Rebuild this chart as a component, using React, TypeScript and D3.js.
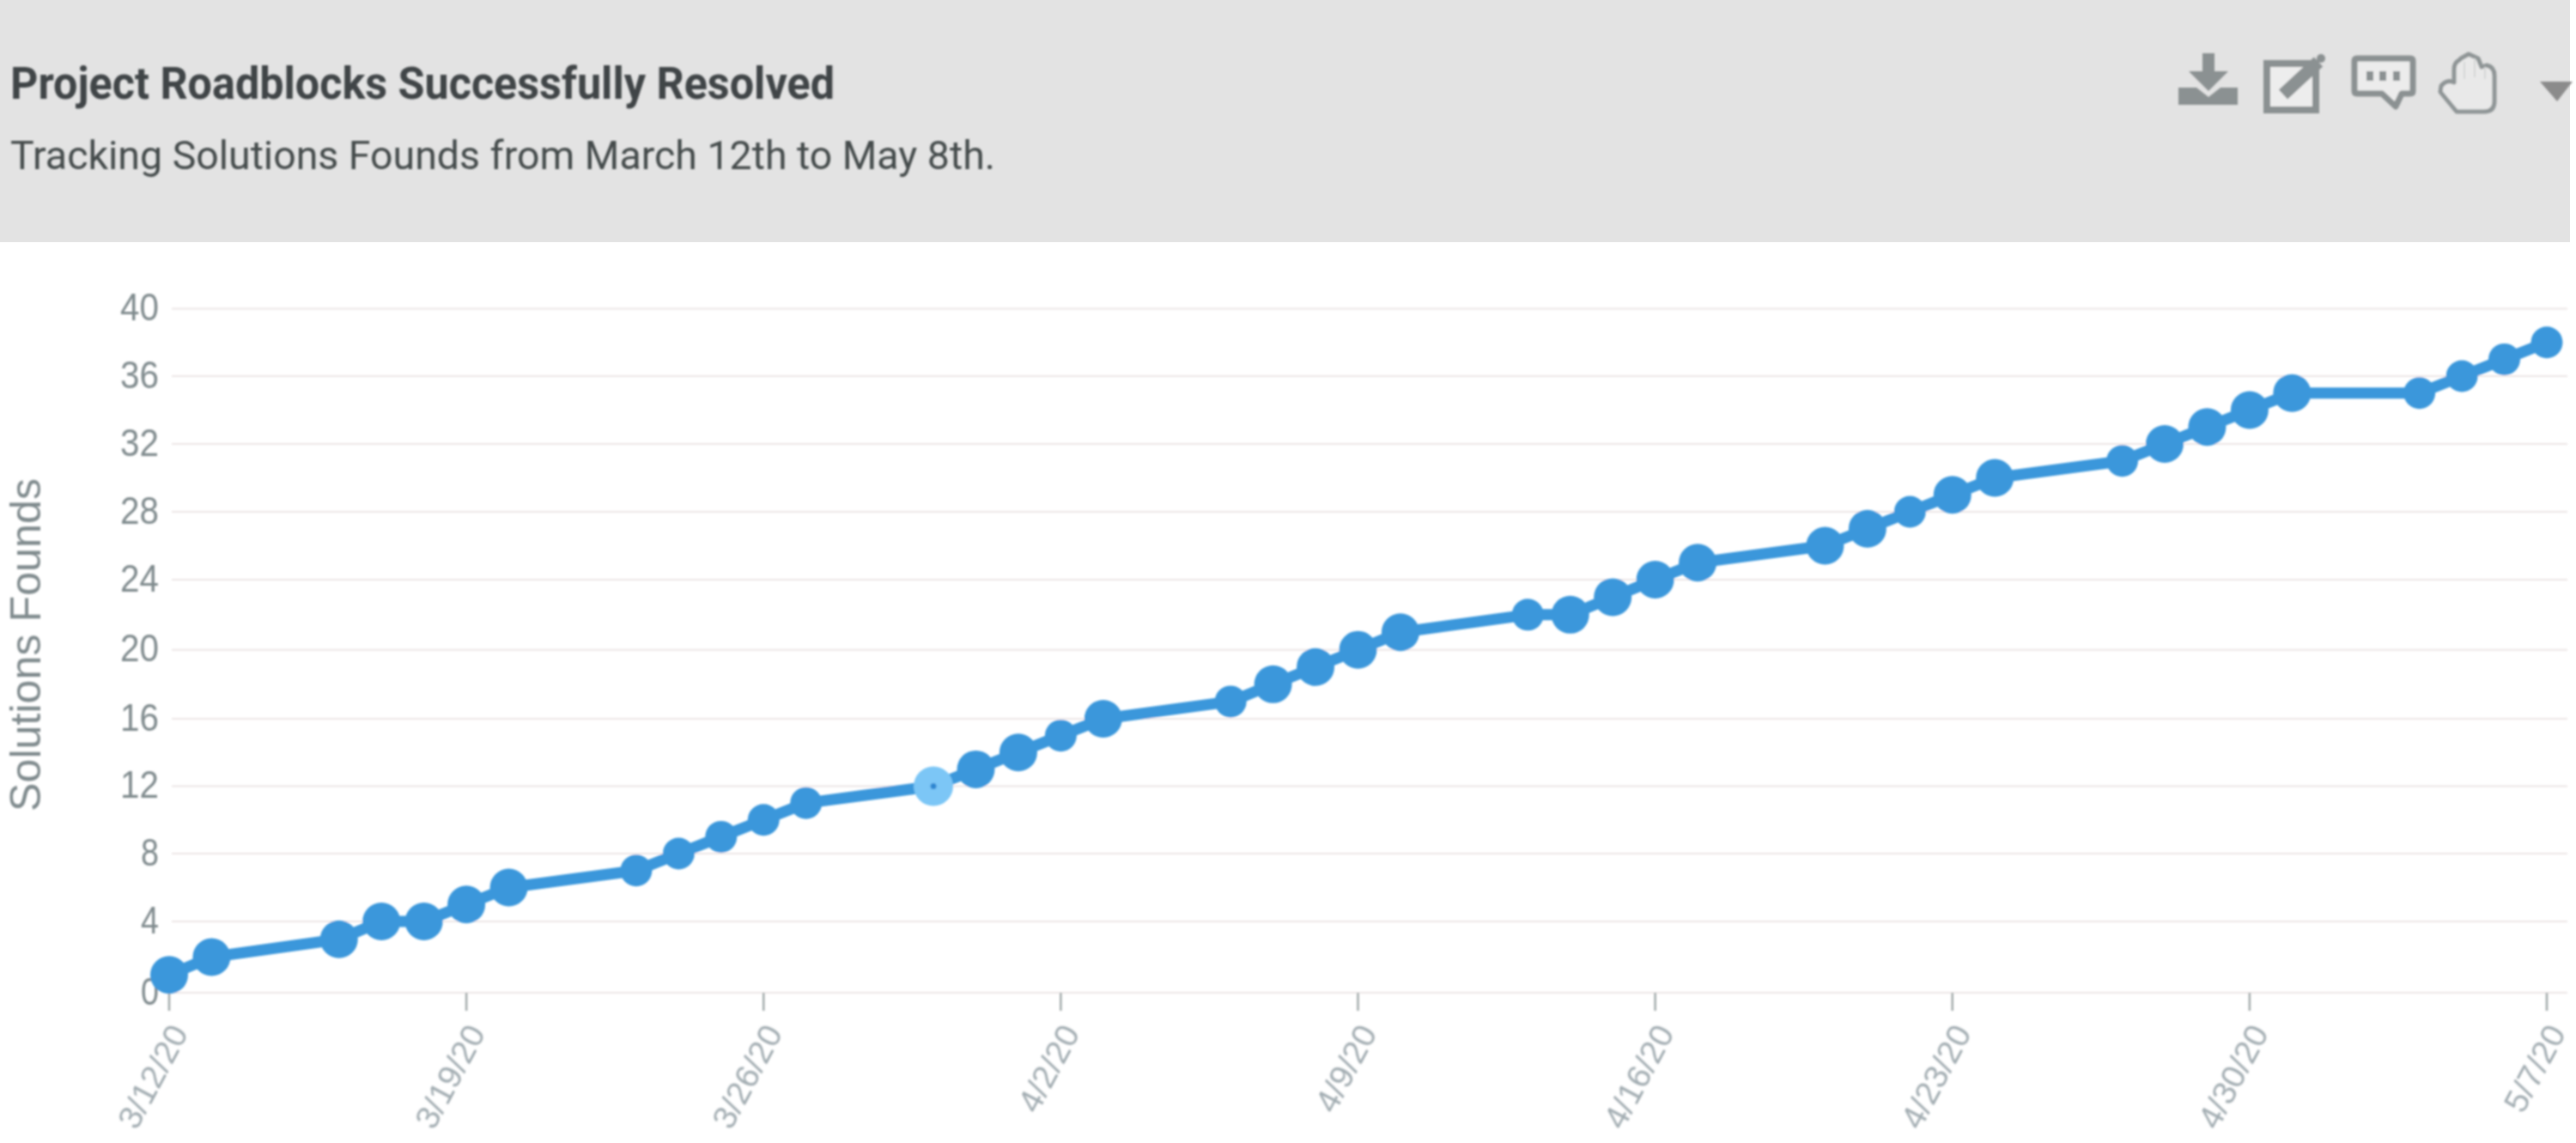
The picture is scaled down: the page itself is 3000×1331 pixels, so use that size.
import React from "react";
import * as d3 from "d3";

const dates = [
  "2020-03-12","2020-03-13","2020-03-16","2020-03-17","2020-03-18","2020-03-19","2020-03-20",
  "2020-03-23","2020-03-24","2020-03-25","2020-03-26","2020-03-27",
  "2020-03-30","2020-03-31","2020-04-01","2020-04-02","2020-04-03",
  "2020-04-06","2020-04-07","2020-04-08","2020-04-09","2020-04-10",
  "2020-04-13","2020-04-14","2020-04-15","2020-04-16","2020-04-17",
  "2020-04-20","2020-04-21","2020-04-22","2020-04-23","2020-04-24",
  "2020-04-27","2020-04-28","2020-04-29","2020-04-30","2020-05-01",
  "2020-05-04","2020-05-05","2020-05-06","2020-05-07",
];
const solutionsFound = [
  1,2,3,4,4,5,6,
  7,8,9,10,11,
  12,13,14,15,16,
  17,18,19,20,21,
  22,22,23,24,25,
  26,27,28,29,30,
  31,32,33,34,35,
  35,36,37,38,
];
const smallMarkerDates = [
  "2020-03-23","2020-03-24","2020-03-25","2020-03-26","2020-03-27",
  "2020-04-02","2020-04-06","2020-04-13","2020-04-22","2020-04-27",
  "2020-05-04","2020-05-05","2020-05-06","2020-05-07",
];
const highlightedDate = "2020-03-30";
const xTickDates = [
  "2020-03-12","2020-03-19","2020-03-26","2020-04-02","2020-04-09",
  "2020-04-16","2020-04-23","2020-04-30","2020-05-07",
];
const yTicks = [0,4,8,12,16,20,24,28,32,36,40];
const titleText = "Project Roadblocks Successfully Resolved";
const subtitleText = "Tracking Solutions Founds from March 12th to May 8th.";
const yAxisTitle = "Solutions Founds";

const parse = d3.utcParse("%Y-%m-%d");
const fmt = (d: Date) => `${d.getUTCMonth() + 1}/${d.getUTCDate()}/${String(d.getUTCFullYear()).slice(2)}`;

export default function App() {
  const x = d3.scaleUtc()
    .domain([parse("2020-03-12")!, parse("2020-05-07")!])
    .range([197, 2966]);
  // the reference's rows are not quite evenly spaced
  const y = d3.scaleLinear()
    .domain(yTicks)
    .range([1156, 1073, 994, 915.5, 837, 756.7, 675, 596, 517, 438, 359.5]);

  const points = dates.map((d, i) => ({ key: d, date: parse(d)!, value: solutionsFound[i] }));
  const line = d3.line<(typeof points)[number]>()
    .x((p) => x(p.date))
    .y((p) => y(p.value));

  const axisText = "#808b8e";
  const iconGrey = "#8b9192";

  return (
    <svg
      width={3000}
      height={1331}
      viewBox="0 0 3000 1331"
      style={{ position: "absolute", left: 0, top: 0, background: "#fff" }}
      fontFamily="'Liberation Sans', Arial, sans-serif"
    >
      <defs>
        <filter id="soft" x="-5%" y="-5%" width="110%" height="110%">
          <feGaussianBlur stdDeviation="1.1" />
        </filter>
      </defs>

      <rect x={0} y={0} width={2993} height={282} fill="#e3e3e3" />

      <g filter="url(#soft)">
        <text x={12} y={115} fontFamily="Roboto, sans-serif" fontWeight={700} fontSize={51}
          textLength={960} lengthAdjust="spacingAndGlyphs" fill="#3f4547">{titleText}</text>
        <text x={12} y={197} fontFamily="Roboto, sans-serif" fontWeight={400} fontSize={46}
          textLength={1147} lengthAdjust="spacingAndGlyphs" fill="#454b4c">{subtitleText}</text>

        {/* toolbar icons */}
        <g fill={iconGrey}>
          <path d="M2565 62H2579V83H2595L2572 106L2549 83H2565Z" />
          <path d="M2537 102H2558L2572 113L2586 102H2606V122H2537Z" />
        </g>
        <rect x={2640} y={74} width={57} height={54} fill="#ededed" stroke={iconGrey} strokeWidth={8} />
        <path d="M2659 110L2700 72" stroke={iconGrey} strokeWidth={15} fill="none" />
        <circle cx={2703} cy={68} r={5} fill={iconGrey} />
        <path d="M2745 68H2807Q2810 68 2810 71V106Q2810 109 2807 109H2797L2790 124L2774 109H2745Q2742 109 2742 106V71Q2742 68 2745 68Z"
          fill="#ececec" stroke={iconGrey} strokeWidth={7} strokeLinejoin="round" />
        <g fill={iconGrey}>
          <rect x={2756} y={83} width={8} height={11} />
          <rect x={2771} y={83} width={8} height={11} />
          <rect x={2787} y={83} width={8} height={11} />
        </g>
        <path d="M2861 130H2893Q2905 130 2905 118V88Q2905 78 2896 76L2890 78L2886 68L2875 63L2866 68L2864 70Q2858 73 2858 81V96Q2850 92 2843 100L2842 107Z"
          fill="#e9e9e9" stroke="#8f9596" strokeWidth={5} strokeLinejoin="round" />
        <path d="M2870 72V92M2882 68V90M2894 78V92" fill="none" stroke="#d4d6d6" strokeWidth={2} />
        <path d="M2958 95H2996L2978 118Z" fill="#8b8b8b" />

        {/* grid */}
        {yTicks.map((t) => (
          <line key={t} x1={200} x2={2990} y1={y(t)} y2={y(t)} stroke="#ece6e6" strokeWidth={2} />
        ))}
        {xTickDates.map((d) => (
          <line key={d} x1={x(parse(d)!)} x2={x(parse(d)!)} y1={1156} y2={1177} stroke="#a3abab" strokeWidth={2.5} />
        ))}

        {/* y axis */}
        {yTicks.map((t) => (
          <text key={t} x={185} y={y(t)} dy="0.3em" textAnchor="end" fontSize={45} fill={axisText}
            textLength={t < 10 ? 21 : 45} lengthAdjust="spacingAndGlyphs">{t}</text>
        ))}
        <text transform="translate(47,945) rotate(-90)" fontSize={50} fill={axisText}
          textLength={388} lengthAdjust="spacingAndGlyphs">{yAxisTitle}</text>

        {/* x axis */}
        {xTickDates.map((d) => {
          const px = x(parse(d)!);
          return (
            <text key={d} transform={`translate(${px + 11},1196) rotate(-62)`} dy="0.35em" textAnchor="end"
              fontSize={39} fill="#a3adb2">{fmt(parse(d)!)}</text>
          );
        })}

        {/* series */}
        <path d={line(points) ?? ""} fill="none" stroke="#3b97db" strokeWidth={13} strokeLinejoin="round" />
        {points.map((p) =>
          p.key === highlightedDate ? (
            <g key={p.key}>
              <circle cx={x(p.date)} cy={y(p.value)} r={23} fill="#7cc6f6" />
              <circle cx={x(p.date)} cy={y(p.value)} r={3.5} fill="#2f86d0" />
            </g>
          ) : (
            <circle key={p.key} cx={x(p.date)} cy={y(p.value)}
              r={smallMarkerDates.includes(p.key) ? 18.5 : 22} fill="#3b97db" />
          )
        )}
      </g>
    </svg>
  );
}
